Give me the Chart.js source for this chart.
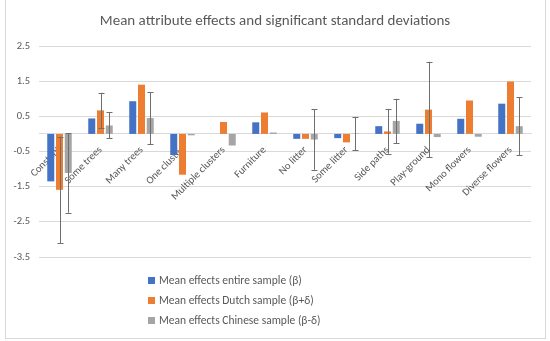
<!DOCTYPE html>
<html>
<head>
<meta charset="utf-8">
<script src="https://cdn.jsdelivr.net/npm/chart.js@4.4.1/dist/chart.umd.min.js"></script>
<style>
    html, body { margin: 0; padding: 0; background: #fff; }
    #wrap   { position: relative; width: 550px; height: 341px; overflow: hidden; }
    #frame  { position: absolute; left: 5px; top: -1px; width: 539px; height: 338px; border: 1px solid #d9d9d9; pointer-events: none; }
    canvas  { position: absolute; left: 0; top: 0; }
    #legend { position: absolute; left: 148px; top: 270px; font: 11.5px Carlito, Lato, sans-serif; color: #595959; }
    #legend .row { height: 20px; display: flex; align-items: center; }
    #legend .box { display: inline-block; width: 7px; height: 7px; margin-right: 4px; }
</style>
</head>
<body>
<div id="wrap">
    <canvas id="chart" width="550" height="341"></canvas>
    <div id="legend"></div>
    <div id="frame"></div>
</div>
<script>
// ── DATA ──
const categories = ['Constant', 'Some trees', 'Many trees', 'One cluster', 'Multiple clusters', 'Furniture',
                    'No litter', 'Some litter', 'Side paths', 'Play-ground', 'Mono flowers', 'Diverse flowers'];

const entireMean  = [-1.35, 0.44, 0.93, -0.60, 0.00, 0.33, -0.14, -0.12, 0.22, 0.29, 0.43, 0.86];
const dutchMean   = [-1.59, 0.67, 1.40, -1.16, 0.34, 0.61, -0.14, -0.24, 0.07, 0.69, 0.95, 1.49];
const chineseMean = [-1.11, 0.24, 0.45, -0.04, -0.33, 0.04, -0.16, 0.01, 0.37, -0.09, -0.08, 0.22];

// significant standard deviations (error bar half-lengths), 0 = none shown
const entireSD  = [0, 0, 0, 0, 0, 0, 0, 0, 0, 0, 0, 0];
const dutchSD   = [1.51, 0.50, 0, 0, 0, 0, 0, 0, 0.63, 1.36, 0, 0];
const chineseSD = [1.13, 0.37, 0.74, 0, 0, 0, 0.86, 0.47, 0.63, 0, 0, 0.83];

const yTicks = [2.5, 1.5, 0.5, -0.5, -1.5, -2.5, -3.5];

const seriesNames  = ['Mean effects entire sample (β)', 'Mean effects Dutch sample (β+δ)', 'Mean effects Chinese sample (β-δ)'];
const seriesColors = ['#4472c4', '#ed7d31', '#a5a5a5'];

const TEXT = '#595959';
const FONT = 'Carlito, Lato, sans-serif';

// ── ERROR BARS ──
const errorBars = {
    id: 'errorBars',
    afterDatasetsDraw(chart) {
        const ctx = chart.ctx;
        const y = chart.scales.y;
        ctx.save();
        ctx.strokeStyle = '#6f6f6f';
        ctx.lineWidth = 1;
        chart.data.datasets.forEach((ds, di) => {
            const meta = chart.getDatasetMeta(di);
            ds.sd.forEach((sd, i) => {
                if (!sd) return;
                const x = Math.round(meta.data[i].x) + 0.5;
                const top = y.getPixelForValue(ds.data[i] + sd);
                const bot = y.getPixelForValue(ds.data[i] - sd);
                ctx.beginPath();
                ctx.moveTo(x, top); ctx.lineTo(x, bot);
                ctx.moveTo(x - 3, Math.round(top) + 0.5); ctx.lineTo(x + 3, Math.round(top) + 0.5);
                ctx.moveTo(x - 3, Math.round(bot) + 0.5); ctx.lineTo(x + 3, Math.round(bot) + 0.5);
                ctx.stroke();
            });
        });
        ctx.restore();
    }
};

const means = [entireMean, dutchMean, chineseMean];
const sds   = [entireSD, dutchSD, chineseSD];

// ── CHART ──
new Chart(document.getElementById('chart'), {
    type: 'bar',
    data: {
        labels: categories,
        datasets: seriesNames.map((name, i) => ({
            label: name,
            data: means[i],
            sd: sds[i],
            backgroundColor: seriesColors[i],
            categoryPercentage: 0.64,
            barPercentage: 0.8
        }))
    },
    options: {
        responsive: false,
        animation: false,
        layout: { padding: { left: 0, right: 0, top: 0, bottom: 84 } },
        plugins: {
            legend: { display: false },
            tooltip: { enabled: false },
            title: {
                display: true,
                text: 'Mean attribute effects and significant standard deviations',
                color: TEXT,
                font: { family: FONT, size: 15, weight: 'normal' },
                padding: { top: 12, bottom: 16 }
            }
        },
        scales: {
            x: {
                position: { y: 0 },
                z: 1,
                grid: { display: false, drawTicks: false },
                border: { display: true, color: '#d9d9d9' },
                ticks: {
                    color: TEXT,
                    font: { family: FONT, size: 10.5 },
                    minRotation: 45, maxRotation: 45,
                    autoSkip: false,
                    padding: 10
                }
            },
            y: {
                min: -3.5, max: 2.5,
                afterBuildTicks: s => { s.ticks = yTicks.map(v => ({ value: v })); },
                afterFit: s => { s.width = 39; },
                grid: { color: '#d9d9d9', drawTicks: false },
                border: { display: false },
                ticks: {
                    color: TEXT,
                    font: { family: FONT, size: 10.5 },
                    padding: 9,
                    callback: v => v.toFixed(1)
                }
            },
            // empty right-hand margin so the title stays centred on the page
            margin: {
                type: 'linear',
                position: 'right',
                afterFit: s => { s.width = 19; },
                grid: { display: false },
                border: { display: false },
                ticks: { display: false }
            }
        }
    },
    plugins: [errorBars]
});

// ── LEGEND ──
const legendEl = document.getElementById('legend');
seriesNames.forEach((name, i) => {
    const row = document.createElement('div');
    row.className = 'row';
    const box = document.createElement('span');
    box.className = 'box';
    box.style.background = seriesColors[i];
    row.appendChild(box);
    row.appendChild(document.createTextNode(name));
    legendEl.appendChild(row);
});
</script>
</body>
</html>
